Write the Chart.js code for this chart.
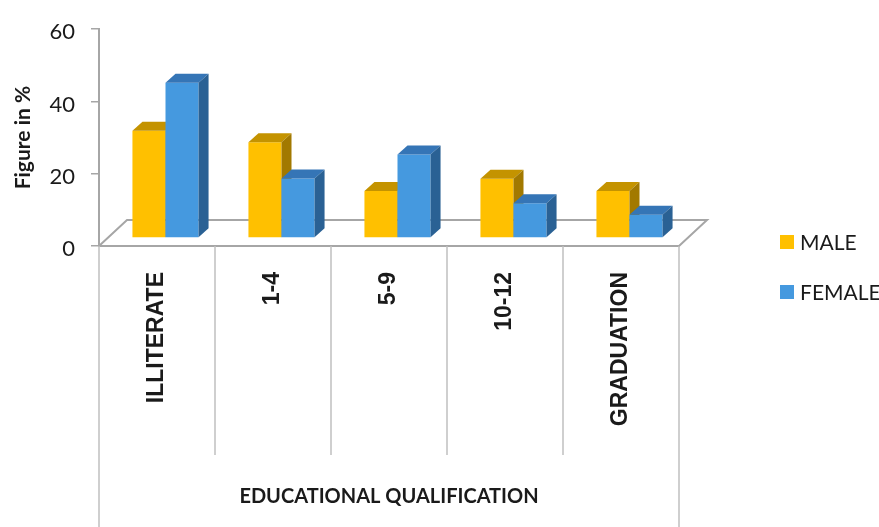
<!DOCTYPE html>
<html>
<head>
<meta charset="utf-8">
<script src="https://cdn.jsdelivr.net/npm/chart.js@4"></script>
<style>
  html, body { margin: 0; padding: 0; background: #fff; }
  #wrap { width: 879px; height: 527px; }
</style>
</head>
<body>
<div id="wrap"><canvas id="chart" width="879" height="527"></canvas></div>
<script>
// data
const categories = ['ILLITERATE', '1-4', '5-9', '10-12', 'GRADUATION'];
const maleValues = [29.7, 26.5, 13, 16.4, 13];
const femaleValues = [43, 16.5, 23.1, 9.6, 6.4];
const yTicks = [0, 20, 40, 60];

// look
const AXIS_COLOR = '#a6a6a6';
const SEP_COLOR = '#bfbfbf';
const TEXT_COLOR = '#1a1a1a';
const frontColors = ['#ffc000', '#4599df'];
const topColors = ['#c49300', '#3575b6'];
const sideColors = ['#a27900', '#2a6194'];

// fake 3d: floor depth, bar position in depth, bar depth
const FLOOR_DX = 28, FLOOR_DY = 26;
const BAR_SHIFT_X = 8.5, BAR_SHIFT_Y = 8;
const BAR_DX = 10, BAR_DY = 9;

const bars3d = {
    id: 'bars3d',
    beforeDatasetsDraw(chart) {
        const { ctx, chartArea: a } = chart;

        // floor outline (front edge is the x axis border)
        ctx.save();
        ctx.strokeStyle = AXIS_COLOR;
        ctx.lineWidth = 2;
        ctx.beginPath();
        ctx.moveTo(a.left, a.bottom);
        ctx.lineTo(a.left + FLOOR_DX, a.bottom - FLOOR_DY);
        ctx.lineTo(a.right + FLOOR_DX, a.bottom - FLOOR_DY);
        ctx.lineTo(a.right, a.bottom);
        ctx.stroke();
        ctx.restore();

        // bars: front from chart.js, then top and side faces, male before female
        const metas = chart.data.datasets.map((d, i) => chart.getDatasetMeta(i));
        ctx.save();
        ctx.translate(BAR_SHIFT_X, -BAR_SHIFT_Y);
        for (let i = 0; i < categories.length; i++) {
            metas.forEach((meta, d) => {
                const bar = meta.data[i];
                const { x, y, base, width } = bar.getProps(['x', 'y', 'base', 'width'], true);
                const l = x - width / 2, r = x + width / 2;
                bar.draw(ctx);

                ctx.fillStyle = topColors[d];
                ctx.beginPath();
                ctx.moveTo(l, y);
                ctx.lineTo(l + BAR_DX, y - BAR_DY);
                ctx.lineTo(r + BAR_DX, y - BAR_DY);
                ctx.lineTo(r, y);
                ctx.closePath();
                ctx.fill();

                ctx.fillStyle = sideColors[d];
                ctx.beginPath();
                ctx.moveTo(r, y);
                ctx.lineTo(r + BAR_DX, y - BAR_DY);
                ctx.lineTo(r + BAR_DX, base - BAR_DY);
                ctx.lineTo(r, base);
                ctx.closePath();
                ctx.fill();
            });
        }
        ctx.restore();
        return false;
    },
    afterDraw(chart) {
        const { ctx, chartArea: a, scales: { x } } = chart;
        const h = chart.height;

        // category table lines below the axis
        ctx.save();
        ctx.strokeStyle = SEP_COLOR;
        ctx.lineWidth = 1.5;
        for (let i = 0; i <= categories.length; i++) {
            const px = Math.round(x.getPixelForValue(i - 0.5));
            const outer = i === 0 || i === categories.length;
            ctx.beginPath();
            ctx.moveTo(px, a.bottom);
            ctx.lineTo(px, outer ? h : 455);
            ctx.stroke();
        }
        ctx.restore();

        // legend
        ctx.save();
        ctx.font = '21px Lato';
        ctx.textBaseline = 'middle';
        ctx.textAlign = 'left';
        chart.data.datasets.forEach((ds, d) => {
            const cy = 242 + d * 50;
            ctx.fillStyle = ds.backgroundColor;
            ctx.fillRect(780, cy - 7, 14, 14);
            ctx.fillStyle = TEXT_COLOR;
            ctx.fillText(ds.label, 800, cy + 1);
        });
        ctx.restore();
    }
};

new Chart(document.getElementById('chart'), {
    type: 'bar',
    data: {
        labels: categories,
        datasets: [
            { label: 'MALE', data: maleValues, backgroundColor: frontColors[0] },
            { label: 'FEMALE', data: femaleValues, backgroundColor: frontColors[1] }
        ]
    },
    options: {
        responsive: false,
        devicePixelRatio: 1,
        animation: false,
        categoryPercentage: 0.57,
        barPercentage: 1,
        layout: { padding: { top: 20, right: 200, left: 0, bottom: 0 } },
        plugins: {
            legend: { display: false },
            tooltip: { enabled: false }
        },
        scales: {
            x: {
                grid: { display: false },
                border: { display: true, color: AXIS_COLOR, width: 2 },
                ticks: {
                    minRotation: 90,
                    maxRotation: 90,
                    padding: 18,
                    color: TEXT_COLOR,
                    font: { family: 'Liberation Sans', size: 23, weight: 'bold' }
                },
                title: {
                    display: true,
                    text: 'EDUCATIONAL QUALIFICATION',
                    color: TEXT_COLOR,
                    font: { family: 'Lato', size: 20, weight: 'bold' },
                    padding: { top: 0, bottom: 18 }
                },
                afterFit(scale) { scale.height = 281; }
            },
            y: {
                min: 0,
                max: 60,
                afterBuildTicks(scale) { scale.ticks = yTicks.map(v => ({ value: v })); },
                grid: {
                    drawOnChartArea: false,
                    drawTicks: true,
                    tickLength: 8,
                    color: AXIS_COLOR,
                    lineWidth: 1.5
                },
                border: { display: true, color: AXIS_COLOR, width: 2 },
                ticks: {
                    padding: 16,
                    labelOffset: 3,
                    color: TEXT_COLOR,
                    font: { family: 'Lato', size: 22 }
                },
                title: {
                    display: true,
                    text: 'Figure in %',
                    color: TEXT_COLOR,
                    font: { family: 'Lato', size: 21, weight: 'bold' },
                    padding: { top: 11, bottom: 0 }
                },
                afterFit(scale) { scale.width = 99; }
            }
        }
    },
    plugins: [bars3d]
});
</script>
</body>
</html>
